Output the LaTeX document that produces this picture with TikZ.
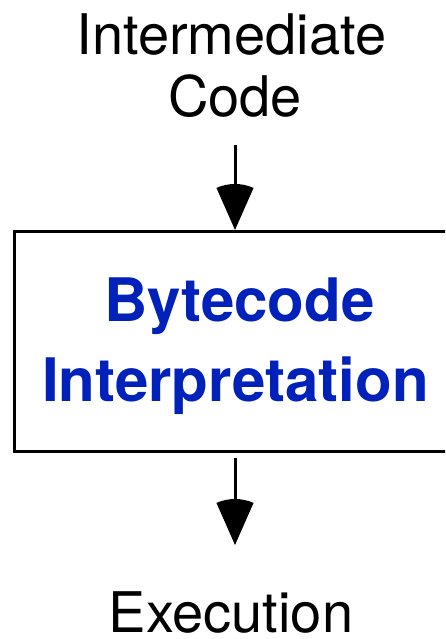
\documentclass[tikz,border=0pt]{standalone}
\usepackage{fontspec}
\setmainfont{TeX Gyre Heros}
\definecolor{interpblue}{RGB}{0,34,187}
\tikzset{
  label text/.style={inner sep=0pt, font=\fontsize{56}{62}\selectfont, text=black},
  stage text/.style={inner sep=0pt, font=\bfseries\fontsize{60}{80}\selectfont, text=interpblue},
  stagebox/.style={draw=black, line width=3pt, fill=white, inner sep=0pt},
  shaft/.style={draw=black, line width=3pt},
}
% arrowhead: a circular sector whose apex is the tip
\newcommand{\sectorhead}[1]{%
  \fill[black] (#1) -- ++(113.8:46pt) arc[start angle=113.8, end angle=66.2, radius=46pt] -- cycle;}
\begin{document}
\begin{tikzpicture}[x=1pt,y=1pt]
  \useasboundingbox (0,0) rectangle (445,639);
  \clip (0,0) rectangle (445,639);
  \fill[white] (0,0) rectangle (445,639);

  % the interpreter stage, cut off at the right edge
  \node[stagebox, minimum width=434pt, minimum height=220pt] (box) at (231,297.5) {};
  \node[stage text, anchor=base] (l1) at (239.5,317) {Bytecode};
  \node[stage text, anchor=base] (l2) at (235.5,237) {Interpretation};

  % input and output labels
  \node[label text, anchor=base] (in1) at (231.5,584) {Intermediate};
  \node[label text, anchor=base] (in2) at (235,522) {Code};
  % no descenders in this word, so its box needs no depth
  \node[label text, anchor=base] (out) at (231,6) {\raisebox{0pt}[\height][0pt]{Execution}};

  % arrow into the box
  \coordinate (a1) at (235,494);
  \coordinate (t1) at (box.north -| a1);
  \draw[shaft] (a1) -- ([yshift=30pt]t1);
  \sectorhead{t1}

  % arrow out of the box
  \coordinate (a2) at (235,181);
  \coordinate (t2) at (235,94);
  \draw[shaft] (a2) -- ([yshift=30pt]t2);
  \sectorhead{t2}
\end{tikzpicture}
\end{document}
